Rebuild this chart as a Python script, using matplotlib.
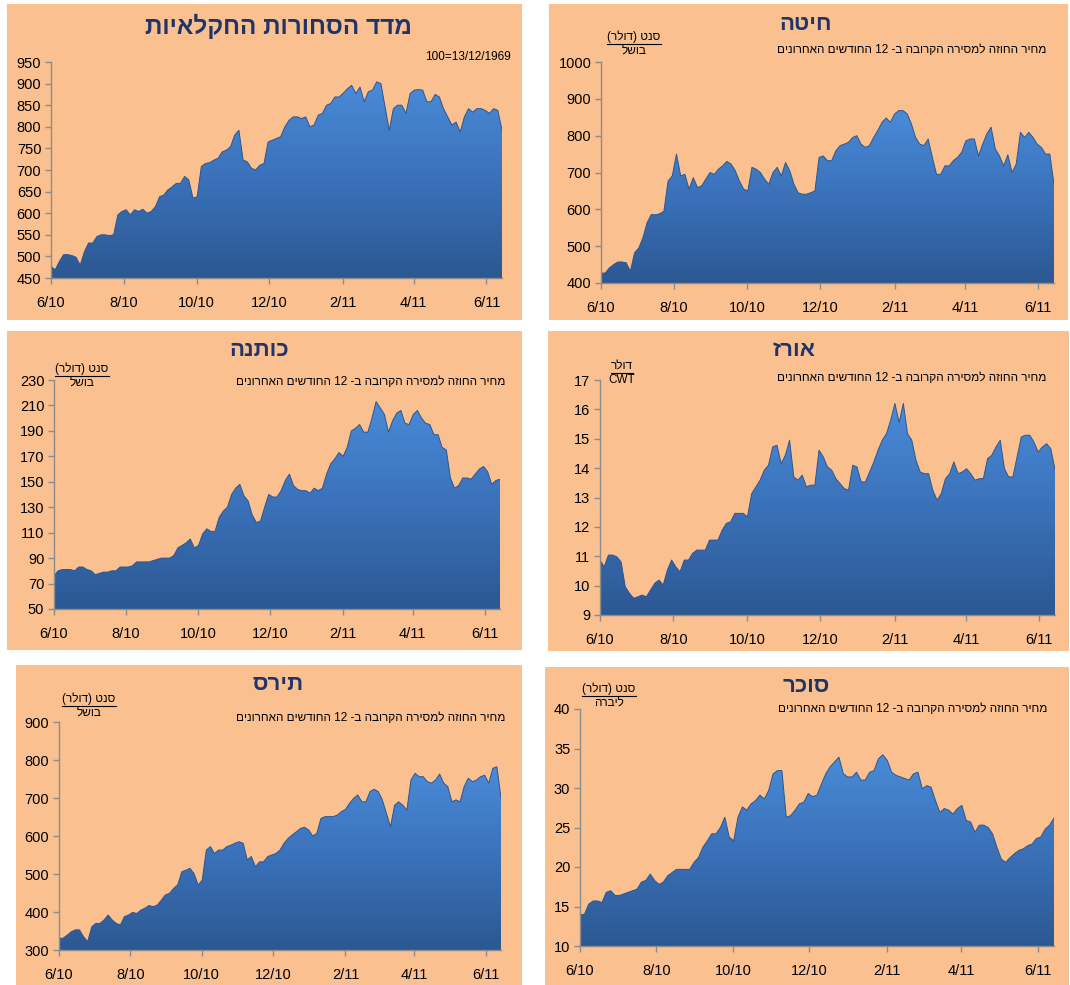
import re
import numpy as np
import pandas as pd
import matplotlib
matplotlib.use("Agg")
import matplotlib.pyplot as plt
import matplotlib.dates as mdates
from matplotlib.patches import Rectangle
from matplotlib.lines import Line2D
from matplotlib.colors import LinearSegmentedColormap

plt.rcParams['font.family'] = ['Liberation Sans', 'DejaVu Sans']

dates = pd.date_range('2010-06-01', periods=109, freq='84h')
tick_dates = ['2010-06-01', '2010-08-01', '2010-10-01', '2010-12-01',
              '2011-02-01', '2011-04-01', '2011-06-01']
tick_labels = ['6/10', '8/10', '10/10', '12/10', '2/11', '4/11', '6/11']

index_vals = [477, 469, 488, 504, 504, 502, 498, 480, 511, 531, 531, 546, 550, 550,
              548, 550, 596, 604, 608, 596, 608, 604, 609, 600, 604, 615, 638, 642,
              654, 661, 669, 669, 685, 677, 635, 638, 708, 715, 717, 723, 727, 742,
              746, 754, 781, 792, 723, 719, 704, 700, 711, 715, 765, 769, 773, 777,
              800, 815, 823, 823, 819, 823, 800, 804, 827, 831, 850, 854, 869, 869,
              878, 888, 896, 877, 892, 858, 881, 885, 904, 900, 846, 792, 842, 850,
              850, 831, 877, 885, 886, 885, 858, 858, 875, 869, 842, 823, 804, 811,
              788, 823, 842, 834, 842, 842, 838, 831, 842, 838, 792]
wheat_vals = [427, 427, 441, 450, 457, 457, 455, 432, 482, 495, 523, 564, 586, 585,
              588, 595, 677, 691, 750, 691, 695, 655, 686, 659, 664, 682, 700, 695,
              709, 718, 730, 723, 705, 677, 655, 650, 714, 709, 700, 682, 668, 700,
              714, 691, 727, 705, 668, 645, 641, 641, 645, 650, 741, 745, 732, 732,
              759, 773, 777, 782, 795, 800, 777, 768, 773, 795, 814, 836, 848, 836,
              859, 868, 868, 859, 832, 795, 777, 773, 791, 741, 695, 695, 718, 718,
              732, 741, 755, 786, 791, 791, 745, 777, 805, 823, 764, 745, 718, 748,
              700, 723, 809, 795, 809, 795, 777, 768, 750, 750, 668]
cotton_vals = [76, 80, 81, 81, 81, 80, 83, 83, 81, 80, 77, 78, 79, 79, 80, 80, 83, 83,
               83, 84, 87, 87, 87, 87, 88, 89, 90, 90, 90, 92, 98, 100, 102, 105, 98,
               100, 109, 113, 111, 111, 122, 127, 130, 140, 145, 148, 139, 135, 124,
               118, 119, 130, 140, 138, 138, 143, 151, 156, 147, 144, 143, 143, 141,
               145, 143, 145, 156, 164, 168, 173, 170, 177, 190, 192, 195, 189, 189,
               200, 213, 208, 203, 189, 198, 204, 206, 196, 195, 203, 206, 200, 196,
               195, 187, 187, 177, 175, 153, 145, 147, 153, 153, 152, 156, 160, 162,
               158, 148, 151, 152]
rice_vals = [10.87, 10.64, 11.04, 11.04, 10.98, 10.81, 9.96, 9.74, 9.57, 9.62, 9.68,
             9.62, 9.85, 10.08, 10.19, 10.02, 10.53, 10.87, 10.64, 10.47, 10.87, 10.87,
             11.10, 11.21, 11.21, 11.21, 11.55, 11.55, 11.55, 11.89, 12.12, 12.17,
             12.46, 12.46, 12.46, 12.34, 13.13, 13.36, 13.59, 13.93, 14.10, 14.72,
             14.78, 14.15, 14.44, 14.95, 13.70, 13.59, 13.76, 13.36, 13.42, 13.42,
             14.61, 14.38, 14.04, 13.93, 13.64, 13.47, 13.30, 13.25, 14.10, 14.04,
             13.53, 13.53, 13.87, 14.21, 14.61, 14.95, 15.17, 15.63, 16.20, 15.55,
             16.20, 15.17, 14.95, 14.27, 13.87, 13.81, 13.81, 13.25, 12.91, 13.13,
             13.64, 13.81, 14.21, 13.81, 13.87, 13.98, 13.81, 13.59, 13.64, 13.64,
             14.32, 14.44, 14.72, 14.95, 13.98, 13.70, 13.70, 14.38, 15.06, 15.12,
             15.12, 14.89, 14.55, 14.72, 14.83, 14.66, 13.95]
corn_vals = [331, 331, 339, 348, 353, 353, 335, 322, 361, 370, 370, 379, 392, 379,
             370, 366, 388, 392, 399, 396, 405, 410, 417, 414, 418, 431, 445, 449,
             462, 471, 506, 510, 515, 501, 471, 484, 563, 572, 554, 563, 563, 572,
             576, 581, 585, 581, 537, 546, 519, 532, 532, 546, 550, 554, 563, 581,
             594, 603, 611, 620, 623, 616, 600, 607, 646, 651, 651, 651, 655, 664,
             670, 686, 699, 708, 690, 690, 717, 723, 717, 695, 660, 624, 681, 690,
             681, 668, 747, 765, 756, 756, 743, 739, 747, 763, 739, 730, 690, 695,
             690, 730, 752, 743, 747, 756, 760, 739, 778, 782, 700]
sugar_vals = [14.0, 14.0, 15.3, 15.7, 15.7, 15.5, 16.8, 17.0, 16.4, 16.4, 16.6, 16.8,
              17.0, 17.2, 18.1, 18.3, 19.1, 18.3, 17.8, 18.1, 18.9, 19.3, 19.7, 19.7,
              19.7, 19.7, 20.6, 21.2, 22.5, 23.3, 24.2, 24.2, 25.0, 26.3, 23.8, 23.3,
              26.3, 27.6, 27.2, 28.0, 28.4, 29.1, 28.6, 29.7, 31.8, 32.2, 32.2, 26.3,
              26.5, 27.2, 28.0, 28.2, 29.3, 28.9, 29.1, 30.5, 31.8, 32.7, 33.3, 33.9,
              31.8, 31.4, 31.4, 32.0, 31.0, 31.0, 32.0, 32.2, 33.7, 34.2, 33.5, 32.0,
              31.6, 31.4, 31.2, 31.0, 31.8, 32.0, 29.9, 30.3, 30.1, 28.4, 26.9, 27.4,
              27.2, 26.7, 27.4, 27.8, 25.9, 25.7, 24.4, 25.3, 25.3, 25.0, 24.2, 22.5,
              21.0, 20.6, 21.2, 21.7, 22.1, 22.3, 22.7, 22.9, 23.6, 23.8, 24.8, 25.3,
              26.2]

titles = ['מדד הסחורות החקלאיות', 'חיטה', 'כותנה', 'אורז', 'תירס', 'סוכר']
subtitle = 'מחיר החוזה למסירה הקרובה ב- 12 החודשים האחרונים'
base_note = '100=13/12/1969'
unit_top = [None, 'סנט (דולר)', 'סנט (דולר)', 'דולר', 'סנט (דולר)', 'סנט (דולר)']
unit_bottom = [None, 'בושל', 'בושל', 'CWT', 'בושל', 'ליברה']
yticks_list = [list(range(450, 951, 50)), list(range(400, 1001, 100)),
               list(range(50, 231, 20)), list(range(9, 18)),
               list(range(300, 901, 100)), list(range(10, 41, 5))]
series = [index_vals, wheat_vals, cotton_vals, rice_vals, corn_vals, sugar_vals]

# ---------------- layout (pixels) ----------------
W, H = 1070, 985
BG = '#FAC090'
NAVY = '#1F3468'
AXC = '#8C8C8C'

panels = [
    dict(p=(7, 4, 522, 320), a=(51, 62, 502, 278), tx=278, ty=26, tfs=17.5),
    dict(p=(549, 4, 1068, 320), a=(601, 62, 1054, 283), tx=806, ty=24, tfs=16),
    dict(p=(7, 331, 522, 650), a=(54, 380, 500, 609), tx=259, ty=351, tfs=16),
    dict(p=(548, 331, 1069, 651), a=(600, 380, 1055, 615), tx=794, ty=350, tfs=16),
    dict(p=(16, 665, 522, 985), a=(59, 722, 501, 950), tx=278, ty=685, tfs=16),
    dict(p=(545, 667, 1069, 985), a=(580, 709, 1054, 946), tx=806, ty=686, tfs=16),
]
sub_pos = [None, (1046, 50), (505, 382), (1046, 378), (505, 718), (1047, 709)]
unit_pos = [None, (634, 37), (82, 369), (622, 366), (89, 699), (609, 689)]


def vis(s):
    """Visual (left-to-right) order for a Hebrew logical string."""
    r = s[::-1]
    r = re.sub(r'[0-9A-Za-z]+', lambda m: m.group(0)[::-1], r)
    return r.translate(str.maketrans('()', ')('))


def fx(x):
    return x / W


def fy(y):
    return 1 - y / H


fig = plt.figure(figsize=(W / 100, H / 100), dpi=100)
fig.patch.set_facecolor('white')

cmap = LinearSegmentedColormap.from_list('blu', ['#2C5892', '#3A71B9', '#4A8BD8'])
xnum = mdates.date2num(dates)
texts_to_underline = []

for i, spec in enumerate(panels):
    px0, py0, px1, py1 = spec['p']
    fig.add_artist(Rectangle((fx(px0), fy(py1)), (px1 - px0) / W, (py1 - py0) / H,
                             transform=fig.transFigure, facecolor=BG,
                             edgecolor='none', zorder=0))
    ax0, ay0, ax1, ay1 = spec['a']
    ax = fig.add_axes([fx(ax0), fy(ay1), (ax1 - ax0) / W, (ay1 - ay0) / H])
    ax.set_facecolor('none')
    yt = yticks_list[i]
    ymin, ymax = yt[0], yt[-1]
    vals = np.array(series[i], dtype=float)

    poly = ax.fill_between(xnum, vals, ymin, facecolor='none', edgecolor='none')
    grad = np.linspace(0, 1, 256).reshape(-1, 1)
    top = vals.max()
    im = ax.imshow(grad, extent=[xnum[0], xnum[-1], ymin, top], origin='lower',
                   aspect='auto', cmap=cmap, zorder=1, interpolation='bilinear')
    im.set_clip_path(poly.get_paths()[0], transform=ax.transData)
    ax.plot(xnum, vals, color='#2B5690', lw=0.7, zorder=2)

    ax.set_xlim(xnum[0], xnum[-1])
    ax.set_ylim(ymin, ymax)
    ax.set_yticks(yt)
    ax.set_yticklabels([str(v) for v in yt])
    ax.set_xticks(mdates.date2num(pd.to_datetime(tick_dates)))
    ax.set_xticklabels(tick_labels)
    for s in ['top', 'right']:
        ax.spines[s].set_visible(False)
    for s in ['left', 'bottom']:
        ax.spines[s].set_color(AXC)
        ax.spines[s].set_linewidth(1.0)
    ax.tick_params(axis='both', colors=AXC, labelcolor='black', labelsize=10.5,
                   direction='out', length=4, width=1.0)
    ax.tick_params(axis='x', pad=9)
    ax.tick_params(axis='y', pad=3)

    fig.text(fx(spec['tx']), fy(spec['ty']), vis(titles[i]), ha='center', va='center',
             fontsize=spec['tfs'], fontweight='bold', color=NAVY)

    if i == 0:
        fig.text(fx(511), fy(57), base_note, ha='right', va='center', fontsize=8.5,
                 color='black')
    else:
        sx, sy = sub_pos[i]
        fig.text(fx(sx), fy(sy), vis(subtitle), ha='right', va='center',
                 fontsize=8.5, color='black')
        ux, uy = unit_pos[i]
        t = fig.text(fx(ux), fy(uy), vis(unit_top[i]), ha='center', va='center',
                     fontsize=8.5, color='black')
        texts_to_underline.append(t)
        fig.text(fx(ux), fy(uy + 14), vis(unit_bottom[i]), ha='center', va='center',
                 fontsize=8.5, color='black')

fig.canvas.draw()
renderer = fig.canvas.get_renderer()
for t in texts_to_underline:
    bb = t.get_window_extent(renderer)
    ybase = (bb.y0 - 0.5) / fig.bbox.height
    fig.add_artist(Line2D([bb.x0 / fig.bbox.width, bb.x1 / fig.bbox.width],
                          [ybase, ybase], transform=fig.transFigure,
                          color='black', lw=0.8))

fig.savefig('out.png', dpi=100, facecolor='white')
